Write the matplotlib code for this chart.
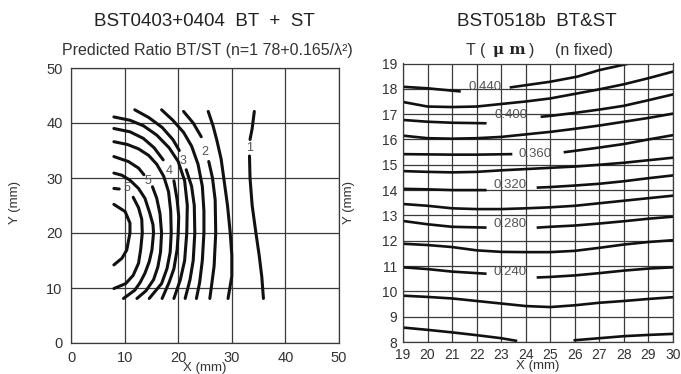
import numpy as np
import matplotlib
matplotlib.use("Agg")
import matplotlib.pyplot as plt

nan = np.nan
FONT = "Liberation Sans"
plt.rcParams['font.family'] = [FONT, 'DejaVu Sans']

# ---------------- left chart data: contour polylines (x, y) ----------------
L1_x = [8, 10.1, 11.0, 11.0, 10.4, 9.5, 8]
L1_y = [25.2, 23.9, 21.8, 20, 16.9, 15.4, 14.2]
L2_x = [8, 9.0, nan, 11.6, 12.6, 13.2, 13.3, 13.0, 12.6, 11.6, 10.2, 8]
L2_y = [28.1, 28.0, nan, 26.5, 24.6, 22.5, 20, 17, 14.5, 12.3, 10.8, 9.9]
L3_x = [8, 9.5, 11, 12.6, 13.8, 14.7, 15.3, 15.4, 15.1, 14.6, 13.8, 12.9, 11.9, 9.8]
L3_y = [30.9, 30.5, 29.6, 28.1, 26.3, 23.6, 21.5, 20, 16.9, 14.8, 12.7, 11, 9.6, 8.1]
L4_x = [8, 10.7, 12.6, 13.6, nan, 15.2, 16.0, 16.6, 16.9, 16.7, 16.2, 15.4, 14.0, 12.3]
L4_y = [33.9, 33.0, 31.8, 30.6, nan, 28.4, 26.3, 23.5, 20, 16.5, 13.8, 11.5, 9.5, 8.1]
L5_x = [8, 10.5, 12.6, 14.5, 16.0, 17.3, 18.2, 18.6, 18.7, 18.5, 17.9, 16.9, 14.6]
L5_y = [36.6, 36.1, 35.3, 34.1, 32.5, 30.3, 27.5, 24.0, 20, 16.5, 13.5, 10.8, 8.1]
L6_x = [8, 11, 13.5, 15.5, 17.2, nan, 19.2, 19.8, 20.1, 20.0, 19.8, 19.2, 18.3, 17.0]
L6_y = [39.0, 38.4, 37.2, 35.5, 33.3, nan, 29.5, 26, 23, 20, 17, 13.5, 11, 8.1]
L7_x = [8, 11, 13.5, 16, 18.3, 20, 21.2, 21.7, 21.6, 21.2, 20.4, 19.2]
L7_y = [41.1, 40.5, 39.5, 37.8, 35.5, 33, 29.5, 25, 20, 15, 11.5, 8.1]
L8_x = [11.9, 14.5, 17, 19, 20.2, nan, 21.5, 22.5, 23.0, 23.1, 22.8, 22.2, 21.3]
L8_y = [42.4, 41, 39.2, 37, 35, nan, 31.5, 28.5, 25, 20, 15, 11.5, 8.1]
L9_x = [16.9, 19, 21, 22.5, 23.7, 24.5, 24.8, 24.8, 24.5, 24.0, 23.4]
L9_y = [42.4, 40.5, 38.3, 35.8, 32.5, 28.5, 24, 20, 15, 11, 8.1]
L10_x = [21.0, 22.8, 24.3, nan, 25.7, 26.4, 26.9, 27.0, 26.7, 26.3, 25.9]
L10_y = [42.1, 40, 37.5, nan, 33, 30, 26, 20, 14, 11, 8.1]
L11_x = [25.6, 26.5, 27.2, 28.0, 28.5, 29.2, 29.7, 30.0, 30.0, 29.3]
L11_y = [42.1, 39.5, 36.9, 33.5, 30, 25, 20.1, 16, 12.1, 8.1]
L12_x = [34.2, 33.8, 33.4, nan, 33.3, 33.4, 33.8, 34.5, 35.1, 35.6, 35.9]
L12_y = [42.1, 39, 37, nan, 34, 30, 25, 20, 16, 12, 8.1]

left_labels = ["5", "5", "4", "3", "2", "1"]
left_label_x = [10.4, 14.4, 18.3, 20.95, 25.0, 33.3]
left_label_y = [28.1, 29.5, 31.3, 33.1, 34.8, 35.4]

left_ticks = [0, 10, 20, 30, 40, 50]

# ---------------- right chart data ----------------
R20_x = [19, 20, 21, 22, 23, 23.6, nan, 26, 27, 28, 29, 30]
R20_y = [8.57, 8.48, 8.38, 8.27, 8.15, 8.05, nan, 8.07, 8.15, 8.23, 8.28, 8.32]
R22_x = [19, 20, 21, 22, 23, 24, 25, 26, 27, 28, 29, 30]
R22_y = [9.83, 9.78, 9.72, 9.62, 9.52, 9.42, 9.38, 9.45, 9.55, 9.62, 9.70, 9.77]
R24_x = [19, 20, 21, 22.35, nan, 24.5, 25, 26, 27, 28, 29, 30]
R24_y = [10.95, 10.88, 10.78, 10.70, nan, 10.55, 10.57, 10.63, 10.72, 10.82, 10.90, 10.95]
R26_x = [19, 20, 21, 22, 23, 24, 25, 26, 27, 28, 29, 30]
R26_y = [11.88, 11.83, 11.75, 11.62, 11.56, 11.55, 11.55, 11.60, 11.72, 11.85, 11.95, 12.02]
R28_x = [19, 20, 21, 22.35, nan, 24.5, 25, 26, 27, 28, 29, 30]
R28_y = [12.78, 12.65, 12.55, 12.52, nan, 12.52, 12.55, 12.60, 12.68, 12.77, 12.87, 12.95]
R30_x = [19, 20, 21, 22, 23, 24, 25, 26, 27, 28, 29, 30]
R30_y = [13.45, 13.38, 13.28, 13.25, 13.25, 13.28, 13.32, 13.38, 13.48, 13.58, 13.68, 13.78]
R32_x = [19, 20, 21, 22.35, nan, 24.5, 25, 26, 27, 28, 29, 30]
R32_y = [14.05, 14.03, 14.00, 14.00, nan, 14.10, 14.12, 14.18, 14.25, 14.35, 14.47, 14.58]
R34_x = [19, 20, 21, 22, 23, 24, 25, 26, 27, 28, 29, 30]
R34_y = [14.75, 14.72, 14.70, 14.72, 14.78, 14.83, 14.88, 14.93, 15.00, 15.08, 15.18, 15.28]
R36_x = [19, 20, 21, 22, 23.4, nan, 25.6, 26, 27, 28, 29, 30]
R36_y = [15.42, 15.41, 15.40, 15.40, 15.42, nan, 15.50, 15.55, 15.68, 15.82, 16.00, 16.17]
R38_x = [19, 20, 21, 22, 23, 24, 25, 26, 27, 28, 29, 30]
R38_y = [16.15, 16.05, 16.03, 16.05, 16.10, 16.20, 16.30, 16.42, 16.55, 16.70, 16.85, 17.02]
R40_x = [19, 20, 21, 22.35, nan, 24.66, 25, 26, 27, 28, 29, 30]
R40_y = [16.77, 16.70, 16.66, 16.64, nan, 16.90, 16.93, 17.05, 17.18, 17.33, 17.55, 17.78]
R42_x = [19, 20, 21, 22, 23, 24, 25, 26, 27, 28, 29, 30]
R42_y = [17.48, 17.30, 17.28, 17.30, 17.40, 17.50, 17.62, 17.80, 17.98, 18.18, 18.42, 18.68]
R44_x = [19, 20, 21.3, nan, 23.4, 25, 26.1, 27, 28.6]
R44_y = [18.08, 18.02, 17.90, nan, 18.06, 18.28, 18.48, 18.74, 19.08]

right_labels = ["0.440", "0.400", "0.360", "0.320", "0.280", "0.240"]
right_label_x = [22.35, 23.4, 24.4, 23.37, 23.37, 23.37]
right_label_y = [18.08, 16.96, 15.41, 14.2, 12.68, 10.77]

right_xticks = list(range(19, 31))
right_yticks = list(range(8, 20))

# ---------------- figure ----------------
W, H = 681, 374
fig = plt.figure(figsize=(W / 100, H / 100), dpi=100)

def box(l, t, r, b):
    return [l / W, 1 - b / H, (r - l) / W, (b - t) / H]

def ftext(x, y, s, **kw):
    base = dict(ha='center', va='center', color="#333333")
    base.update(kw)
    fig.text(x / W, 1 - y / H, s, **base)

GRID = "#3a3a3a"
LINE = "#111111"

axL = fig.add_axes(box(71, 68, 339, 343))
axL.set_xlim(0, 50)
axL.set_ylim(0, 50)
axL.set_xticks(left_ticks)
axL.set_yticks(left_ticks)
axL.grid(True, color=GRID, lw=0.9)
axL.set_axisbelow(True)
for xs, ys in [(L1_x, L1_y), (L2_x, L2_y), (L3_x, L3_y), (L4_x, L4_y),
               (L5_x, L5_y), (L6_x, L6_y), (L7_x, L7_y), (L8_x, L8_y),
               (L9_x, L9_y), (L10_x, L10_y), (L11_x, L11_y), (L12_x, L12_y)]:
    axL.plot(xs, ys, color=LINE, lw=2.2, solid_capstyle='round')
for s, x, y in zip(left_labels, left_label_x, left_label_y):
    axL.text(x, y, s, fontsize=9, color="#555555", ha='center', va='center')
axL.tick_params(length=0, pad=6, labelsize=10.5, colors="#333333")
for sp in axL.spines.values():
    sp.set_color(GRID)
    sp.set_linewidth(0.9)

axR = fig.add_axes(box(403, 63.5, 673, 342))
axR.set_xlim(19, 30)
axR.set_ylim(8, 19)
axR.set_xticks(right_xticks)
axR.set_yticks(right_yticks)
axR.grid(True, color=GRID, lw=0.9)
axR.set_axisbelow(True)
for xs, ys in [(R20_x, R20_y), (R22_x, R22_y), (R24_x, R24_y), (R26_x, R26_y),
               (R28_x, R28_y), (R30_x, R30_y), (R32_x, R32_y), (R34_x, R34_y),
               (R36_x, R36_y), (R38_x, R38_y), (R40_x, R40_y), (R42_x, R42_y),
               (R44_x, R44_y)]:
    axR.plot(xs, ys, color=LINE, lw=1.9)
for s, x, y in zip(right_labels, right_label_x, right_label_y):
    axR.text(x, y, s, fontsize=9.5, color="#555555", ha='center', va='center')
axR.tick_params(axis='x', length=0, pad=4, labelsize=10, colors="#333333")
axR.tick_params(axis='y', length=0, pad=4, labelsize=10, colors="#333333")
for sp in axR.spines.values():
    sp.set_color(GRID)
    sp.set_linewidth(0.9)

# axis labels
ftext(205, 368.5, "X (mm)", fontsize=9.5)
ftext(538, 366.5, "X (mm)", fontsize=9.5)
ftext(15, 203, "Y (mm)", fontsize=9.5, rotation=90)
ftext(349, 203, "Y (mm)", fontsize=9.5, rotation=90)

# titles
ftext(204, 22, "BST0403+0404  BT  +  ST", fontsize=13.5, color="#222222")
ftext(207, 51, "Predicted Ratio BT/ST (n=1 78+0.165/\u03bb\u00b2)", fontsize=11.5)
ftext(537, 22, "BST0518b  BT&ST", fontsize=13.5, color="#222222")
ftext(476, 50, "T (", fontsize=11.5)
ftext(509, 50, "\u03bc m", fontsize=11, color="#222222",
      family='DejaVu Serif', weight='bold')
ftext(532, 50, ")", fontsize=11.5)
ftext(584, 50, "(n fixed)", fontsize=11.5)

fig.savefig("out.png", dpi=100, facecolor="white")
